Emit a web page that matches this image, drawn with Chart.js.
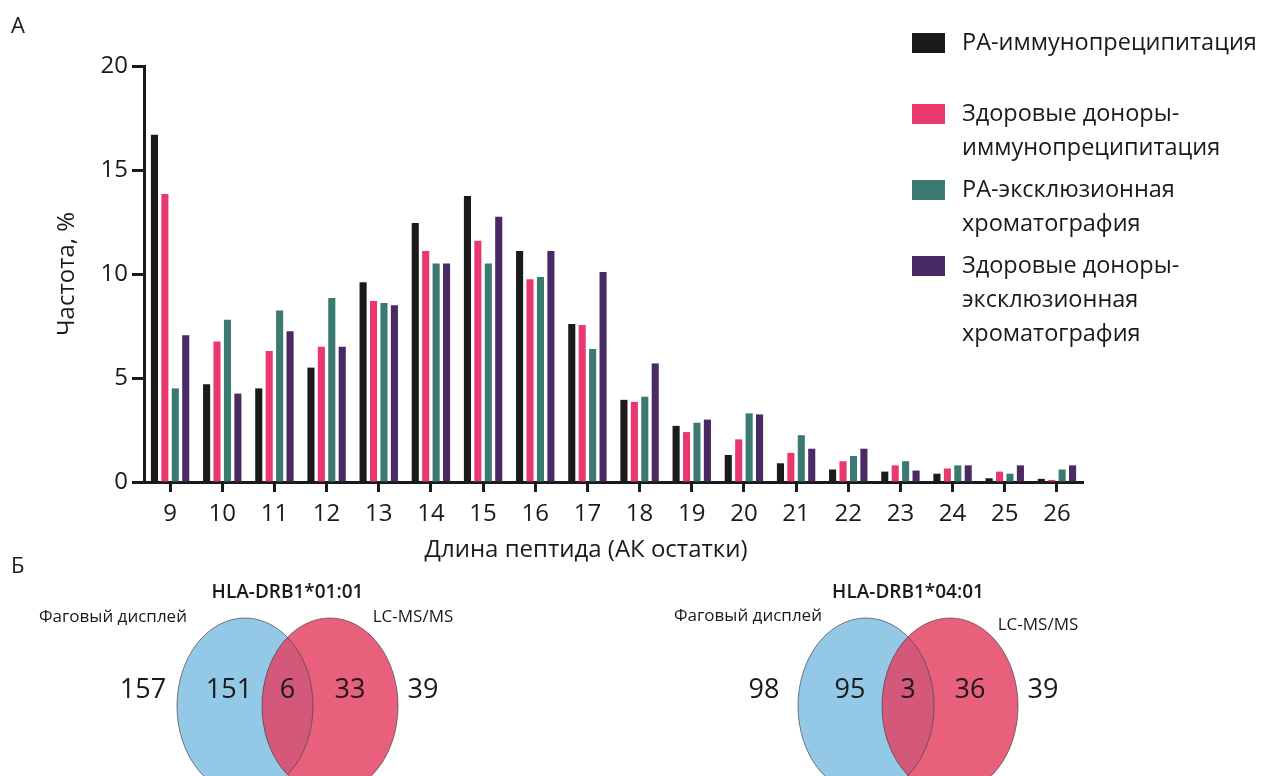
<!DOCTYPE html>
<html>
<head>
<meta charset="utf-8">
<script src="https://cdn.jsdelivr.net/npm/chart.js@4/dist/chart.umd.min.js"></script>
<style>
  html, body { margin: 0; padding: 0; background: #ffffff; }
  canvas { display: block; }
</style>
</head>
<body>
<canvas id="fig" width="1263" height="776"></canvas>
<script>
(function () {
  'use strict';

  // peptide length (AA residues)
  var lengths = ['9', '10', '11', '12', '13', '14', '15', '16', '17', '18', '19', '20', '21', '22', '23', '24', '25', '26'];

  // frequency, %
  var raIp  = [16.7, 4.7, 4.5, 5.5, 9.6, 12.45, 13.75, 11.1, 7.6, 3.95, 2.7, 1.3, 0.9, 0.6, 0.5, 0.4, 0.18, 0.15];
  var hdIp  = [13.85, 6.75, 6.3, 6.5, 8.7, 11.1, 11.6, 9.75, 7.55, 3.85, 2.4, 2.05, 1.4, 1.0, 0.8, 0.65, 0.5, 0.1];
  var raSec = [4.5, 7.8, 8.25, 8.85, 8.6, 10.5, 10.5, 9.85, 6.4, 4.1, 2.85, 3.3, 2.25, 1.25, 1.0, 0.8, 0.4, 0.6];
  var hdSec = [7.05, 4.25, 7.25, 6.5, 8.5, 10.5, 12.75, 11.1, 10.1, 5.7, 3.0, 3.25, 1.6, 1.6, 0.55, 0.8, 0.8, 0.8];

  var yTicks = [0, 5, 10, 15, 20];

  var seriesNames = [
    ['РА-иммунопреципитация'],
    ['Здоровые доноры-', 'иммунопреципитация'],
    ['РА-эксклюзионная', 'хроматография'],
    ['Здоровые доноры-', 'эксклюзионная', 'хроматография']
  ];
  var seriesColors = ['#1a1a1a', '#e8386d', '#3a7a70', '#4a2a64'];

  // venn panels
  var vennTitles = ['HLA-DRB1*01:01', 'HLA-DRB1*04:01'];
  var phageOnly = [151, 95];
  var shared = [6, 3];
  var msOnly = [33, 36];

  var FONT = '"Open Sans", "Noto Sans", sans-serif';

  function drawText(ctx, txt, x, y, size, align, weight) {
    ctx.font = (weight || 'normal') + ' ' + size + 'px ' + FONT;
    ctx.textAlign = align || 'left';
    ctx.textBaseline = 'middle';
    ctx.fillStyle = '#1a1a1a';
    ctx.fillText(txt, x, y);
  }

  function ellipse(ctx, cx, cy, rx, ry) {
    ctx.beginPath();
    ctx.ellipse(cx, cy, rx, ry, 0, 0, Math.PI * 2);
  }

  function drawVenn(ctx, i, cxL, cxR, cy) {
    var rx = 68, ry = 88;
    ctx.save();
    ellipse(ctx, cxL, cy, rx, ry);
    ctx.fillStyle = '#93c9e7';
    ctx.fill();
    ellipse(ctx, cxR, cy, rx, ry);
    ctx.fillStyle = '#e9607c';
    ctx.fill();
    ctx.save();
    ellipse(ctx, cxL, cy, rx, ry);
    ctx.clip();
    ellipse(ctx, cxR, cy, rx, ry);
    ctx.fillStyle = '#d3587a';
    ctx.fill();
    ctx.restore();
    ctx.lineWidth = 1;
    ctx.strokeStyle = 'rgba(70,70,70,0.7)';
    ellipse(ctx, cxL, cy, rx, ry);
    ctx.stroke();
    ellipse(ctx, cxR, cy, rx, ry);
    ctx.stroke();
    ctx.restore();

    var mid = (cxL + cxR) / 2;
    var ny = 690;
    drawText(ctx, String(phageOnly[i] + shared[i]), cxL - 102, ny, 27, 'center');
    drawText(ctx, String(phageOnly[i]), cxL - 16, ny, 27, 'center');
    drawText(ctx, String(shared[i]), mid, ny, 27, 'center');
    drawText(ctx, String(msOnly[i]), cxR + 20, ny, 27, 'center');
    drawText(ctx, String(msOnly[i] + shared[i]), cxR + 93, ny, 27, 'center');
    drawText(ctx, vennTitles[i], mid, 593, 19, 'center', '600');
  }

  var extras = {
    id: 'extras',
    afterDraw: function (chart) {
      var ctx = chart.ctx;
      drawText(ctx, 'А', 11, 27, 22, 'left');
      drawText(ctx, 'Б', 11, 567, 22, 'left');

      // x axis title, sits left of the plot centre in the original
      drawText(ctx, 'Длина пептида (АК остатки)', 586, 550, 24, 'center');

      // legend
      var ly = [43, 114, 190, 266];
      seriesNames.forEach(function (lines, k) {
        ctx.fillStyle = seriesColors[k];
        ctx.fillRect(912, ly[k] - 10, 33, 20);
        lines.forEach(function (t, j) {
          drawText(ctx, t, 962, ly[k] + j * 34, 23.5, 'left');
        });
      });

      drawVenn(ctx, 0, 245, 330, 706);
      drawText(ctx, 'Фаговый дисплей', 113, 617, 17, 'center');
      drawText(ctx, 'LC-MS/MS', 413, 617, 17, 'center');

      drawVenn(ctx, 1, 866, 950, 706);
      drawText(ctx, 'Фаговый дисплей', 748, 616, 17, 'center');
      drawText(ctx, 'LC-MS/MS', 1038, 625, 17, 'center');
    }
  };

  var datasets = [raIp, hdIp, raSec, hdSec].map(function (d, k) {
    return {
      label: seriesNames[k].join(' '),
      data: d,
      backgroundColor: seriesColors[k],
      borderWidth: 0,
      categoryPercentage: 0.8,
      barPercentage: 0.68
    };
  });

  new Chart(document.getElementById('fig'), {
    type: 'bar',
    data: { labels: lengths, datasets: datasets },
    options: {
      responsive: false,
      animation: false,
      layout: { padding: { left: 49, right: 180, top: 66, bottom: 211 } },
      plugins: {
        legend: { display: false },
        tooltip: { enabled: false }
      },
      scales: {
        x: {
          offset: true,
          grid: {
            offset: false,
            drawOnChartArea: false,
            drawTicks: true,
            tickLength: 10,
            tickWidth: 3,
            tickColor: '#1a1a1a'
          },
          border: { display: true, width: 3, color: '#1a1a1a' },
          ticks: { color: '#1a1a1a', font: { family: FONT, size: 24 }, padding: 8, maxRotation: 0 },
          afterFit: function (s) { s.height = 83; }
        },
        y: {
          min: 0,
          max: 20,
          afterBuildTicks: function (s) { s.ticks = yTicks.map(function (v) { return { value: v }; }); },
          grid: {
            drawOnChartArea: false,
            drawTicks: true,
            tickLength: 12,
            tickWidth: 3,
            tickColor: '#1a1a1a'
          },
          border: { display: true, width: 3, color: '#1a1a1a' },
          ticks: { color: '#1a1a1a', font: { family: FONT, size: 24 }, padding: 4 },
          title: { display: true, text: 'Частота, %', color: '#1a1a1a', font: { family: FONT, size: 24 } },
          afterFit: function (s) { s.width = 95; }
        }
      }
    },
    plugins: [extras]
  });
})();
</script>
</body>
</html>
